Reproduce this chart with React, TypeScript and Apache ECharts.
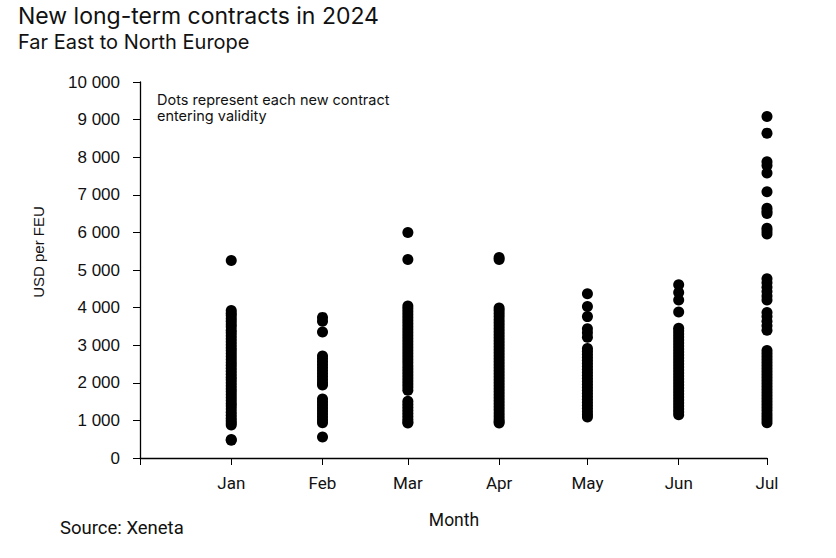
import React, { useEffect, useRef } from "react";
import * as echarts from "echarts";

const months = ["Jan", "Feb", "Mar", "Apr", "May", "Jun", "Jul"];
const monthDates = ["2024-01-01", "2024-02-01", "2024-03-01", "2024-04-01", "2024-05-01", "2024-06-01", "2024-07-01"];
const tickDates = ["2023-12-01", ...monthDates];
const yTicks = [0, 1000, 2000, 3000, 4000, 5000, 6000, 7000, 8000, 9000, 10000];

const janRates = [5250, 3920, 3850, 3790, 3710, 3640, 3560, 3490, 3400, 3330, 3250, 3170, 3090, 3010, 2930, 2860, 2780, 2700, 2620, 2540, 2470, 2390, 2310, 2230, 2150, 2080, 2000, 1920, 1840, 1770, 1690, 1610, 1530, 1450, 1380, 1300, 1220, 1140, 1060, 990, 930, 880, 490, 470];
const febRates = [3740, 3640, 3350, 2710, 2640, 2560, 2480, 2400, 2320, 2240, 2160, 2080, 2000, 1940, 1570, 1490, 1410, 1330, 1250, 1170, 1090, 1010, 940, 560];
const marRates = [6000, 5280, 4040, 3970, 3890, 3810, 3730, 3650, 3570, 3490, 3410, 3330, 3250, 3170, 3090, 3010, 2930, 2850, 2770, 2690, 2610, 2530, 2450, 2370, 2290, 2210, 2130, 2050, 1970, 1890, 1800, 1510, 1430, 1350, 1270, 1190, 1110, 1030, 960, 930];
const aprRates = [5330, 5280, 3990, 3920, 3840, 3760, 3680, 3600, 3520, 3440, 3360, 3280, 3200, 3120, 3040, 2960, 2880, 2800, 2720, 2640, 2560, 2480, 2400, 2320, 2240, 2160, 2080, 2000, 1920, 1840, 1760, 1680, 1600, 1520, 1440, 1360, 1280, 1200, 1120, 1040, 970, 930];
const mayRates = [4370, 4030, 3760, 3440, 3330, 3210, 2910, 2840, 2760, 2680, 2600, 2520, 2440, 2360, 2280, 2200, 2120, 2040, 1960, 1880, 1800, 1720, 1640, 1560, 1480, 1400, 1320, 1240, 1160, 1090];
const junRates = [4610, 4400, 4200, 3880, 3450, 3380, 3300, 3220, 3140, 3060, 2980, 2900, 2820, 2740, 2660, 2580, 2500, 2420, 2340, 2260, 2180, 2100, 2020, 1940, 1860, 1780, 1700, 1620, 1540, 1460, 1380, 1300, 1230, 1150];
const julRates = [9080, 8640, 7880, 7780, 7580, 7080, 6640, 6560, 6500, 6110, 6040, 5960, 4770, 4660, 4540, 4430, 4310, 4200, 3870, 3760, 3640, 3520, 3400, 2860, 2780, 2700, 2620, 2540, 2460, 2380, 2300, 2220, 2140, 2060, 1980, 1900, 1820, 1740, 1660, 1580, 1500, 1420, 1340, 1260, 1180, 1100, 1020, 940];

const monthRates = [janRates, febRates, marRates, aprRates, mayRates, junRates, julRates];

const labelFont = "Roboto, 'Noto Sans', sans-serif";
const titleFont = "Inter, 'Open Sans', sans-serif";

export default function App() {
  const ref = useRef<HTMLDivElement>(null);
  useEffect(() => {
    if (!ref.current) return;
    const chart = echarts.init(ref.current, null, { renderer: "svg" });
    const data: [number, number][] = [];
    monthRates.forEach((arr, i) => {
      const t = Date.parse(monthDates[i] + "T00:00:00Z");
      arr.forEach((v) => data.push([t, v]));
    });
    const tickTimes = tickDates.map((d) => Date.parse(d + "T00:00:00Z"));
    const monthOf = (t: number) => {
      const idx = tickTimes.findIndex((x) => Math.abs(x - t) < 86400000 * 2);
      return idx > 0 ? months[idx - 1] : "";
    };
    chart.setOption({
      animation: false,
      backgroundColor: "#ffffff",
      grid: { left: 140, right: 69, top: 82, bottom: 100, containLabel: false },
      xAxis: {
        type: "value",
        min: tickTimes[0],
        max: tickTimes[tickTimes.length - 1],
        axisLine: { show: true, onZero: false, lineStyle: { color: "#000", width: 1.4 } },
        axisTick: { show: true, length: 7, customValues: tickTimes, lineStyle: { color: "#000", width: 1 } },
        axisLabel: {
          customValues: tickTimes.slice(1),
          formatter: (v: number) => monthOf(v),
          color: "#111",
          fontSize: 17,
          fontFamily: labelFont,
          margin: 16,
          showMinLabel: true,
          showMaxLabel: true,
        },
        splitLine: { show: false },
      },
      yAxis: {
        type: "value",
        min: 0,
        max: 10000,
        interval: 1000,
        axisLine: { show: true, lineStyle: { color: "#000", width: 1.3 } },
        axisTick: { show: true, length: 7, lineStyle: { color: "#000", width: 1 } },
        axisLabel: {
          formatter: (v: number) => String(v).replace(/\B(?=(\d{3})+(?!\d))/g, " "),
          color: "#111",
          fontSize: 17,
          fontFamily: "'Liberation Sans', Arial, sans-serif",
          margin: 20,
        },
        splitLine: { show: false },
      },
      series: [
        {
          type: "scatter",
          data,
          symbol: "circle",
          symbolSize: 11,
          itemStyle: { color: "#000", opacity: 1 },
        },
      ],
      graphic: [
        { type: "text", left: 18, top: 4, style: { text: "New long-term contracts in 2024", fontSize: 23, fontFamily: titleFont, fill: "#111" } },
        { type: "text", left: 18, top: 32, style: { text: "Far East to North Europe", fontSize: 20, fontFamily: titleFont, fill: "#111" } },
        { type: "text", left: 157, top: 91, style: { text: "Dots represent each new contract\nentering validity", fontSize: 14.5, lineHeight: 16, fontFamily: titleFont, fill: "#111" } },
        { type: "text", x: 38, y: 252, rotation: Math.PI / 2, style: { text: "USD per FEU", fontSize: 15, fontFamily: "'Liberation Sans', Arial, sans-serif", fill: "#111", align: "center", verticalAlign: "middle" } },
        { type: "text", x: 454, y: 520, style: { text: "Month", fontSize: 17.5, fontFamily: labelFont, fill: "#111", align: "center", verticalAlign: "middle" } },
        { type: "text", x: 60, y: 528, style: { text: "Source: Xeneta", fontSize: 18.5, fontFamily: labelFont, fill: "#111", align: "left", verticalAlign: "middle" } },
      ],
    });
    return () => chart.dispose();
  }, []);
  return <div ref={ref} style={{ width: 836, height: 558, position: "absolute", left: 0, top: 0 }} />;
}
